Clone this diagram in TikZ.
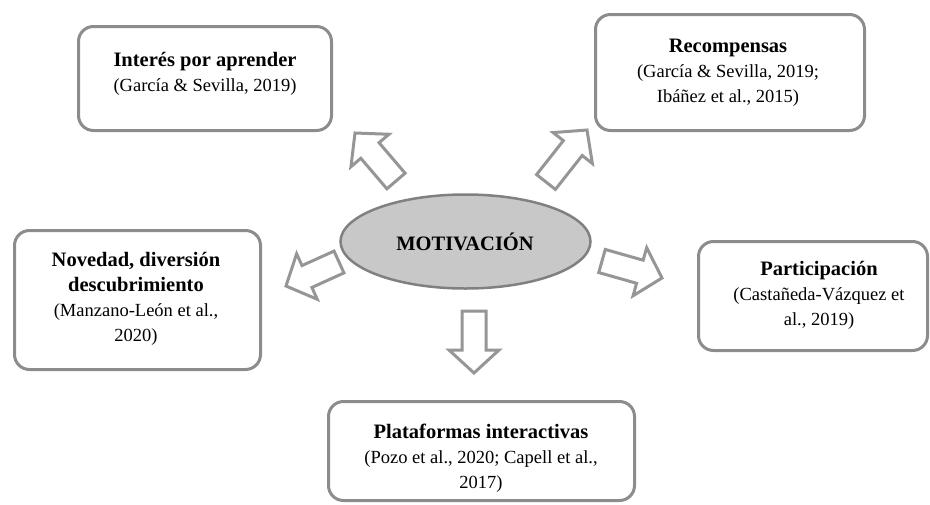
\documentclass[tikz,border=0pt]{standalone}
\usepackage{fontspec}
\setmainfont{Liberation Serif}
\usetikzlibrary{calc,shapes.geometric}
\definecolor{boxgray}{RGB}{140,140,140}
\definecolor{ellfill}{RGB}{200,200,200}
\definecolor{ellline}{RGB}{128,128,128}
\definecolor{arrgray}{RGB}{150,150,150}
\newcommand{\ttl}[1]{{\fontsize{20.5}{25}\selectfont\bfseries #1}}
\newcommand{\blockarr}[2]{%
  \coordinate (#1h) at ($(#2)!23pt!(#1)$);
  \draw[arrline] ($(#1)!12pt!90:(#2)$) -- ($(#1h)!12pt!90:(#2)$) -- ($(#1h)!25pt!90:(#2)$)
    -- (#2) -- ($(#1h)!25pt!-90:(#2)$) -- ($(#1h)!12pt!-90:(#2)$) -- ($(#1)!12pt!-90:(#2)$) -- cycle;}
\tikzset{
  box/.style={draw=boxgray, line width=3pt, rounded corners=15pt, fill=white, inner sep=0pt},
  txt/.style={align=center, font=\fontsize{18.5}{25}\selectfont, inner sep=0pt},
  arrline/.style={draw=arrgray, line width=3pt, fill=white, line join=miter},
}
\begin{document}
\begin{tikzpicture}[x=1pt,y=-1pt]
\useasboundingbox (0,0) rectangle (930,504);
% boxes
\node[box, minimum width=253pt, minimum height=104pt] (b1) at (205,78.5) {};
\node[box, minimum width=269pt, minimum height=116pt] (b2) at (730,72.5) {};
\node[box, minimum width=246pt, minimum height=139pt] (b3) at (137.5,300) {};
\node[box, minimum width=229pt, minimum height=109pt] (b4) at (813,296) {};
\node[box, minimum width=306pt, minimum height=99pt] (b5) at (481.5,451) {};
% texts
\node[txt] (t1) at (205,74) {\ttl{Interés por aprender}\\(García \& Sevilla, 2019)};
\node[txt] (t2) at (728,73) {\ttl{Recompensas}\\(García \& Sevilla, 2019;\\Ibáñez et al., 2015)};
\node[txt] (t3) at (136,299) {\ttl{Novedad, diversión}\\\ttl{descubrimiento}\\(Manzano-León et al.,\\2020)};
\node[txt] (t4) at (819,295) {\ttl{Participación}\\(Castañeda-Vázquez et\\al., 2019)};
\node[txt] (t5) at (481,458) {\ttl{Plataformas interactivas}\\(Pozo et al., 2020; Capell et al.,\\2017)};
% ellipse
\node[ellipse, draw=ellline, fill=ellfill, line width=2.5pt, minimum width=250pt, minimum height=94pt, inner sep=0pt] (m) at (465.5,241.5) {};
\node[inner sep=0pt] (mt) at (465,242) {\ttl{MOTIVACIÓN}};
% arrows
\coordinate (a1t) at (396,181); \coordinate (a1p) at (355,133);
\coordinate (a2t) at (546,182); \coordinate (a2p) at (587,130);
\coordinate (a3t) at (339,262); \coordinate (a3p) at (286,286);
\coordinate (a4t) at (602,261); \coordinate (a4p) at (662,278);
\coordinate (a5t) at (474,311); \coordinate (a5p) at (474,373);
\blockarr{a1t}{a1p}
\blockarr{a2t}{a2p}
\blockarr{a3t}{a3p}
\blockarr{a4t}{a4p}
\blockarr{a5t}{a5p}
\end{tikzpicture}
\end{document}
